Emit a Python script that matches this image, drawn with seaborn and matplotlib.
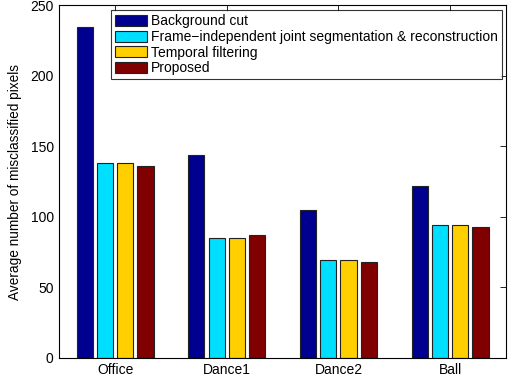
import matplotlib
matplotlib.use("Agg")
import matplotlib.pyplot as plt
import seaborn as sns
import pandas as pd

categories = ["Office", "Dance1", "Dance2", "Ball"]
methods = ["Background cut",
           "Frame\u2212independent joint segmentation & reconstruction",
           "Temporal filtering",
           "Proposed"]
background_cut = [235, 144, 105, 122]
frame_independent = [138, 85, 69, 94]
temporal_filtering = [138, 85, 69, 94]
proposed = [136, 87, 68, 93]
colors = ["#000090", "#00DFFF", "#FFCF00", "#800000"]
yticks = [0, 50, 100, 150, 200, 250]

series = [background_cut, frame_independent, temporal_filtering, proposed]
rows = []
for m, vals in zip(methods, series):
    for c, v in zip(categories, vals):
        rows.append({"Sequence": c, "Method": m, "Value": v})
df = pd.DataFrame(rows)

sns.set_style("white")
plt.rcParams['font.family'] = ['Liberation Sans', 'DejaVu Sans']
plt.rcParams['text.color'] = 'black'
plt.rcParams['axes.labelcolor'] = 'black'
plt.rcParams['xtick.color'] = 'black'
plt.rcParams['ytick.color'] = 'black'

fig = plt.figure(figsize=(5.08, 3.81), dpi=100)
ax = fig.add_axes([0.1167, 0.0612, 0.996 - 0.1167, 0.9856 - 0.0612])

sns.barplot(data=df, x="Sequence", y="Value", hue="Method", order=categories,
            hue_order=methods, palette=colors, width=0.727, gap=0.2,
            edgecolor="#222222", linewidth=0.8, saturation=1, ax=ax)

ax.set_xlim(-0.5, 3.5)
ax.set_ylim(0, 250)
ax.set_yticks(yticks)
ax.set_xlabel("")
ax.set_ylabel("Average number of misclassified pixels", fontsize=9.8, labelpad=6)
ax.tick_params(direction="in", top=True, right=True, length=4, width=0.6,
               labelsize=10, color="black", labelcolor="black", pad=4)
for s in ax.spines.values():
    s.set_visible(True)
    s.set_color("black")
    s.set_linewidth(0.8)

leg = ax.legend(loc="upper right", bbox_to_anchor=(0.991, 0.987), borderaxespad=0,
                fontsize=10, frameon=True, fancybox=False, handlelength=2.3,
                handleheight=0.85, labelspacing=0.12, handletextpad=0.25,
                borderpad=0.3)
leg.get_frame().set_edgecolor("black")
leg.get_frame().set_linewidth(0.8)
for t in leg.get_texts():
    t.set_color("black")

fig.savefig("out.png", dpi=100)
